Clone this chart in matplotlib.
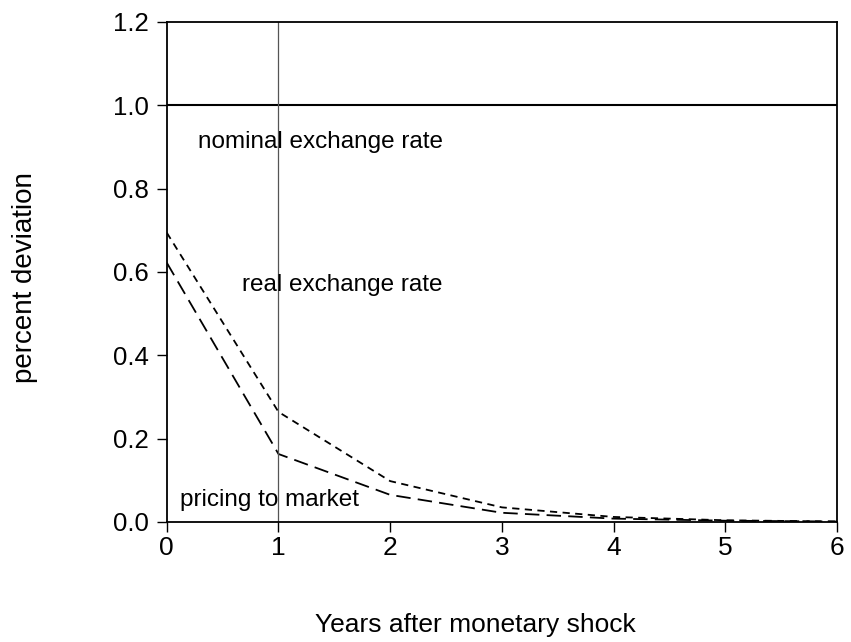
import matplotlib
matplotlib.use("Agg")
import matplotlib.pyplot as plt
import numpy as np

plt.rcParams['font.family'] = ['Liberation Sans', 'DejaVu Sans']

years = [0, 1, 2, 3, 4, 5, 6]
nominal = [1.0, 1.0, 1.0, 1.0, 1.0, 1.0, 1.0]
real_rate = [0.694, 0.264, 0.098, 0.035, 0.012, 0.004, 0.001]
pricing = [0.622, 0.163, 0.065, 0.022, 0.008, 0.003, 0.001]

fig = plt.figure(figsize=(8.51, 6.42), dpi=100)
ax = fig.add_axes([0.196, 0.187, 0.7875, 0.779])

ax.plot(years, nominal, color='black', lw=1.5)
ax.plot(years, real_rate, color='black', lw=1.3, dashes=(4, 3))
ax.plot(years, pricing, color='black', lw=1.3, dashes=(8, 4))
ax.axvline(1, color='#555555', lw=0.9)

ax.text(0.279, 0.912, 'nominal exchange rate', fontsize=17.5, va='center')
ax.text(0.67, 0.569, 'real exchange rate', fontsize=17.5, va='center')
ax.text(0.116, 0.053, 'pricing to market', fontsize=17.5, va='center')

ax.set_xlim(0, 6)
ax.set_ylim(0, 1.2)
ax.set_xticks(range(7))
ax.set_yticks([0.0, 0.2, 0.4, 0.6, 0.8, 1.0, 1.2])
ax.set_yticklabels(['0.0', '0.2', '0.4', '0.6', '0.8', '1.0', '1.2'])
ax.tick_params(direction='out', length=7, width=1)
ax.tick_params(axis='y', labelsize=18.5, pad=6)
ax.tick_params(axis='x', labelsize=19, pad=3)
for s in ax.spines.values():
    s.set_linewidth(1.3)

ax.set_xlabel('Years after monetary shock', fontsize=19, va='center')
ax.set_ylabel('percent deviation', fontsize=20, va='center')
ax.xaxis.set_label_coords(0.461, -0.206)
ax.yaxis.set_label_coords(-0.212, 0.488)

fig.savefig('out.png', dpi=100)
